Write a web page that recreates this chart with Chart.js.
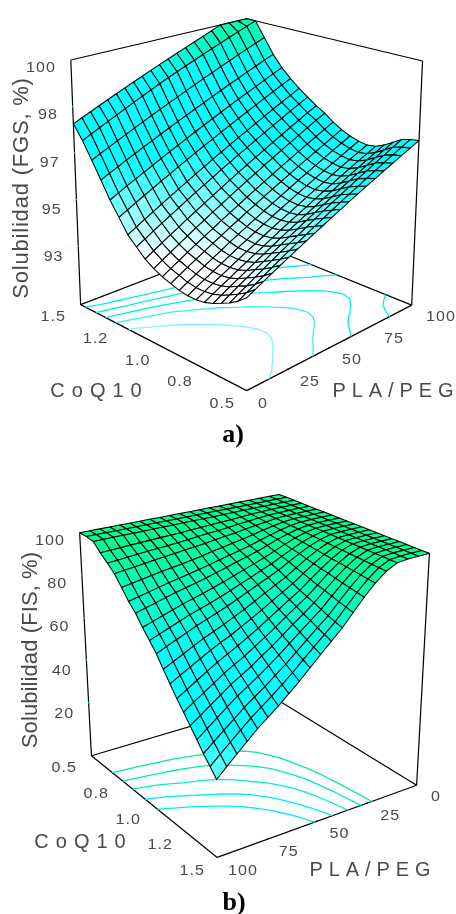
<!DOCTYPE html>
<html><head><meta charset="utf-8">
<style>html,body{margin:0;padding:0;background:#fff;width:456px;height:914px;overflow:hidden}canvas{display:block}</style>
<script src="https://cdn.jsdelivr.net/npm/chart.js@4"></script></head><body>
<canvas id="a" width="456" height="457"></canvas>
<canvas id="b" width="456" height="457"></canvas>
<script>
const plaTicks=[0,25,50,75,100];
const coqTicks=[0.5,0.75,1.0,1.25,1.5];
const plaLabels=['0','25','50','75','100'];
const coqLabels=['0.5','0.8','1.0','1.2','1.5'];
const zTicksA=[100,98.25,96.5,94.75,93];
const zLabelsA=['100','98','97','95','93'];
const zTicksB=[100,80,60,40,20];
const zLabelsB=['100','80','60','40','20'];
const levelsA=[94.4,95.2,95.9,96.6,97.3];
const levelsB=[95,90,83,75,67];
// rows: CoQ10 0.5 -> 1.5, columns: PLA/PEG 0 -> 100
const surfaceA=[
[94.00,94.15,94.30,94.45,94.60,94.75,94.90,95.05,95.20,95.35,95.50,95.65,95.80,95.95,96.10,96.25,96.40,96.55,96.70,96.85,97.00],
[93.75,93.91,94.07,94.23,94.39,94.55,94.71,94.87,95.03,95.19,95.35,95.51,95.67,95.83,95.99,96.15,96.31,96.47,96.63,96.79,96.95],
[93.55,93.72,93.88,94.05,94.21,94.38,94.54,94.71,94.87,95.04,95.20,95.37,95.53,95.70,95.86,96.03,96.19,96.36,96.52,96.69,96.85],
[93.40,93.56,93.73,93.89,94.05,94.21,94.38,94.54,94.70,94.86,95.03,95.19,95.35,95.51,95.68,95.84,96.00,96.16,96.33,96.49,96.65],
[93.25,93.41,93.57,93.73,93.89,94.05,94.21,94.37,94.53,94.69,94.85,95.01,95.17,95.33,95.49,95.65,95.81,95.97,96.13,96.29,96.45],
[93.15,93.31,93.47,93.62,93.78,93.94,94.10,94.25,94.41,94.57,94.73,94.88,95.04,95.20,95.36,95.51,95.67,95.83,95.99,96.14,96.30],
[93.10,93.26,93.42,93.57,93.73,93.89,94.05,94.20,94.36,94.52,94.68,94.83,94.99,95.15,95.31,95.46,95.62,95.78,95.94,96.09,96.25],
[93.10,93.26,93.42,93.58,93.74,93.90,94.06,94.22,94.38,94.54,94.70,94.86,95.02,95.18,95.34,95.50,95.66,95.82,95.98,96.14,96.30],
[93.15,93.31,93.48,93.64,93.80,93.96,94.13,94.29,94.45,94.61,94.78,94.94,95.10,95.26,95.43,95.59,95.75,95.91,96.08,96.24,96.40],
[93.25,93.42,93.58,93.75,93.91,94.08,94.24,94.41,94.57,94.74,94.90,95.07,95.23,95.40,95.56,95.73,95.89,96.06,96.22,96.39,96.55],
[93.35,93.52,93.69,93.86,94.03,94.20,94.37,94.54,94.71,94.88,95.05,95.22,95.39,95.56,95.73,95.90,96.07,96.24,96.41,96.58,96.75],
[93.50,93.68,93.85,94.03,94.20,94.38,94.55,94.73,94.90,95.08,95.25,95.43,95.60,95.78,95.95,96.13,96.30,96.48,96.65,96.83,97.00],
[93.70,93.88,94.05,94.23,94.40,94.58,94.75,94.93,95.10,95.28,95.45,95.63,95.80,95.98,96.15,96.33,96.50,96.68,96.85,97.03,97.20],
[94.00,94.17,94.35,94.52,94.69,94.86,95.04,95.21,95.38,95.55,95.73,95.90,96.07,96.24,96.42,96.59,96.76,96.93,97.11,97.28,97.45],
[94.30,94.47,94.64,94.81,94.98,95.15,95.32,95.49,95.66,95.83,96.00,96.17,96.34,96.51,96.68,96.85,97.02,97.19,97.36,97.53,97.70],
[94.80,94.96,95.12,95.28,95.44,95.60,95.76,95.92,96.08,96.24,96.40,96.56,96.72,96.88,97.04,97.20,97.36,97.52,97.68,97.84,98.00],
[95.30,95.45,95.61,95.76,95.91,96.06,96.22,96.37,96.52,96.67,96.83,96.98,97.13,97.28,97.44,97.59,97.74,97.89,98.05,98.20,98.35],
[95.90,96.05,96.19,96.34,96.48,96.63,96.77,96.92,97.06,97.21,97.35,97.50,97.64,97.79,97.93,98.08,98.22,98.37,98.51,98.66,98.80],
[96.50,96.65,96.79,96.94,97.08,97.23,97.37,97.52,97.66,97.81,97.95,98.10,98.24,98.39,98.53,98.68,98.82,98.97,99.11,99.26,99.40],
[97.10,97.25,97.40,97.55,97.70,97.85,98.00,98.15,98.30,98.45,98.60,98.74,98.88,99.02,99.16,99.30,99.44,99.58,99.72,99.86,100],
[97.60,97.74,97.88,98.02,98.16,98.30,98.44,98.58,98.72,98.86,99.00,99.14,99.28,99.42,99.56,99.70,99.85,100,100,100,100]];
const surfaceB=[
[100,100,100,100,100,100,100,100,100,100,100,100,100,100,100,100,100,100,100,100,100],
[100,100,100,100,100,100,100,100,100,100,100,100,100,100,100,100,100,100,100,100,100],
[100,100,100,100,100,100,99.9,99.9,99.8,99.8,99.8,99.8,99.7,99.7,99.7,99.6,99.6,99.6,99.6,99.5,99.5],
[100,100,100,100,99.8,99.6,99.3,99.0,98.7,98.5,98.2,98.0,97.7,97.5,97.3,97.1,96.9,96.7,96.4,96.2,96.0],
[100,100,100,99.9,99.7,99.3,98.8,98.3,97.8,97.3,96.9,96.5,96.0,95.6,95.2,94.9,94.6,94.2,93.8,93.4,93.0],
[100,100,100,99.9,99.6,99.0,98.3,97.6,96.8,96.2,95.6,94.9,94.3,93.8,93.2,92.7,92.2,91.7,91.1,90.6,90.0],
[100,100,100,99.9,99.4,98.6,97.6,96.5,95.4,94.5,93.6,92.7,91.7,90.9,90.1,89.4,88.7,87.9,87.1,86.3,85.5],
[100,100,100,99.9,99.2,98.2,96.8,95.4,93.9,92.7,91.6,90.4,89.2,88.1,87.1,86.1,85.2,84.2,83.1,82.1,81.0],
[100,100,100,99.8,99.1,97.8,96.3,94.5,92.8,91.4,90.0,88.6,87.2,85.9,84.7,83.6,82.5,81.3,80.0,78.8,77.5],
[100,100,100,99.8,98.9,97.4,95.5,93.4,91.4,89.7,88.0,86.3,84.6,83.1,81.6,80.3,79.0,77.5,76.0,74.5,73.0],
[100,100,100,99.8,98.7,97.0,94.8,92.5,90.1,88.2,86.2,84.3,82.3,80.6,78.9,77.4,75.9,74.2,72.4,70.7,69.0],
[100,100,100,99.8,98.5,96.6,94.2,91.5,88.8,86.6,84.4,82.3,80.1,78.1,76.2,74.5,72.8,70.8,68.9,67.0,65.0],
[100,100,100,99.7,98.3,96.1,93.3,90.3,87.2,84.7,82.2,79.7,77.2,75.0,72.8,70.8,68.9,66.7,64.4,62.2,60.0],
[100,100,100,99.7,98.1,95.7,92.6,89.2,85.8,83.0,80.2,77.4,74.7,72.2,69.7,67.6,65.4,62.9,60.4,58.0,55.5],
[100,100,100,99.7,98.0,95.2,91.8,88.1,84.3,81.3,78.2,75.2,72.1,69.4,66.7,64.3,61.9,59.2,56.4,53.7,51.0],
[100,100,100,99.6,97.8,94.9,91.2,87.1,83.1,79.8,76.4,73.1,69.8,66.9,63.9,61.4,58.8,55.8,52.9,50.0,47.0],
[100,100,100,99.6,97.6,94.5,90.5,86.2,81.8,78.2,74.7,71.1,67.5,64.4,61.2,58.4,55.7,52.5,49.3,46.2,43.0],
[100,100,100,99.6,97.5,94.1,89.8,85.2,80.5,76.7,72.9,69.1,65.3,61.9,58.5,55.5,52.6,49.2,45.8,42.4,39.0],
[100,100,100,99.6,97.3,93.7,89.2,84.2,79.2,75.2,71.1,67.0,63.0,59.4,55.8,52.6,49.4,45.8,42.2,38.6,35.0],
[100,100,100,99.5,97.2,93.3,88.6,83.4,78.1,73.8,69.6,65.3,61.0,57.2,53.4,50.1,46.7,42.9,39.1,35.3,31.5],
[100,100,100,99.5,97,93,88,82.5,77,72.5,68,63.5,59,55,51,47.5,44,40,36,32,28]];

const panelA={id:'a',yMin:0,yMax:457,surface:surfaceA,levels:levelsA,zMin:90.8,zMax:100,zTicks:zTicksA,zLabels:zLabelsA,
 floor:[[247,393.5],[415,306.5],[250,240],[78,306]],top:[[247,122],[426,58],[247,15],[68,57]],
 near:[0,0],zEdge:[0,1],coqEdge:0,plaEdge:0,verticals:[[1,0],[0,1]],topLines:[[[0,1],[1,1]],[[1,1],[1,0]]],
 stops:[[93.7,255,255,255],[96.3,0,255,255],[98.6,0,255,255],[100,0,255,165]],lineColors:['#80f6f6','#30f0f0','#00eeee','#00eeee','#00eeee'],
 title:'Solubilidad (FGS, %)',titleX:22,titleY:188,titleSpacing:0.8,coqTitle:[99.5,391],plaTitle:[396,391],caption:'a)',capPos:[233,435]};
const panelB={id:'b',yMin:457,yMax:914,surface:surfaceB,levels:levelsB,zMin:-5,zMax:100,zTicks:zTicksB,zLabels:zLabelsB,
 floor:[[279,700.6],[89,757],[217,860.5],[420,787]],top:[[280,491],[77,530],[215,608],[433,551]],
 near:[1,1],zEdge:[1,0],coqEdge:1,plaEdge:1,verticals:[[1,0],[0,1]],topLines:[],
 stops:[[26,128,255,255],[42,0,255,255],[62,0,255,255],[100,0,255,140]],lineColors:['#00ee90','#00eeb0','#00eed0','#00eeee','#00eeee'],
 title:'Solubilidad (FIS, %)',titleX:31,titleY:650,titleSpacing:0.1,coqTitle:[83.5,842],plaTitle:[373,870],caption:'b)',capPos:[234,903]};

function bil(q,s,t){const a=(1-s)*(1-t),b=s*(1-t),c=s*t,d=(1-s)*t;
 return [a*q[0][0]+b*q[1][0]+c*q[2][0]+d*q[3][0],a*q[0][1]+b*q[1][1]+c*q[2][1]+d*q[3][1]];}
function proj(p,s,t,z){const f=bil(p.floor,s,t),g=bil(p.top,s,t),w=(z-p.zMin)/(p.zMax-p.zMin);
 return {x:f[0]+(g[0]-f[0])*w,y:f[1]+(g[1]-f[1])*w};}
function colorOf(p,z){const st=p.stops;if(z<=st[0][0])return `rgb(${st[0][1]},${st[0][2]},${st[0][3]})`;
 for(let i=1;i<st.length;i++){if(z<=st[i][0]){const k=(z-st[i-1][0])/(st[i][0]-st[i-1][0]);
  return `rgb(${Math.round(st[i-1][1]+k*(st[i][1]-st[i-1][1]))},${Math.round(st[i-1][2]+k*(st[i][2]-st[i-1][2]))},${Math.round(st[i-1][3]+k*(st[i][3]-st[i-1][3]))})`;}}
 const l=st[st.length-1];return `rgb(${l[1]},${l[2]},${l[3]})`;}
function contour(p,lev){const Z=p.surface,n=Z.length-1,m=Z[0].length-1,out=[],zb=p.zMin;
 const cross=(s1,t1,z1,s2,t2,z2)=>{const k=(lev-z1)/(z2-z1);return proj(p,s1+k*(s2-s1),t1+k*(t2-t1),zb);};
 for(let i=0;i<n;i++)for(let j=0;j<m;j++){
  const s0=j/m,s1=(j+1)/m,t0=i/n,t1=(i+1)/n,a=Z[i][j],b=Z[i][j+1],c=Z[i+1][j+1],d=Z[i+1][j],pts=[];
  if((a<lev)!==(b<lev))pts.push(cross(s0,t0,a,s1,t0,b));
  if((b<lev)!==(c<lev))pts.push(cross(s1,t0,b,s1,t1,c));
  if((c<lev)!==(d<lev))pts.push(cross(s1,t1,c,s0,t1,d));
  if((d<lev)!==(a<lev))pts.push(cross(s0,t1,d,s0,t0,a));
  if(pts.length>=2){out.push(pts[0],pts[1],{x:NaN,y:NaN});}
  if(pts.length===4){out.push(pts[2],pts[3],{x:NaN,y:NaN});}
 }
 return out;}
function line(data,color,width){return {data,showLine:true,borderColor:color,borderWidth:width,pointRadius:0,fill:false,tension:0};}
function build(p){
 const ds=[],Z=p.surface,n=Z.length-1,m=Z[0].length-1;
 const fl=(s,t)=>proj(p,s,t,p.zMin);
 [[[0,0],[1,0]],[[1,0],[1,1]],[[1,1],[0,1]],[[0,1],[0,0]]].forEach(e=>ds.push(line([fl(...e[0]),fl(...e[1])],'#000',1.2)));
 p.verticals.forEach(v=>ds.push(line([proj(p,v[0],v[1],p.zMin),proj(p,v[0],v[1],p.zMax)],'#000',1.2)));
 p.topLines.forEach(e=>ds.push(line([proj(p,e[0][0],e[0][1],p.zMax),proj(p,e[1][0],e[1][1],p.zMax)],'#000',1.2)));
 const zs=p.zEdge;
 ds.push({data:p.zTicks.map(z=>proj(p,zs[0],zs[1],z)),showLine:false,pointStyle:'rect',pointRadius:1,pointBackgroundColor:'#22dd44',pointBorderColor:'#22dd44',pointBorderWidth:0});
 ds.push({data:plaTicks.slice(1,4).map(v=>fl(v/100,p.plaEdge)),showLine:false,pointStyle:'rect',pointRadius:1,pointBackgroundColor:'#000',pointBorderColor:'#000',pointBorderWidth:0});
 p.levels.forEach((l,i)=>ds.push(line(contour(p,l),p.lineColors[i],1.3)));
 const cells=[];
 for(let i=0;i<n;i++)for(let j=0;j<m;j++){
  cells.push({i,j,d:Math.abs((j+.5)/m-p.near[0])+Math.abs((i+.5)/n-p.near[1])});}
 cells.sort((a,b)=>b.d-a.d);
 cells.forEach(({i,j})=>{
  const s0=j/m,s1=(j+1)/m,t0=i/n,t1=(i+1)/n,a=Z[i][j],b=Z[i][j+1],c=Z[i+1][j+1],d=Z[i+1][j];
  const P=[proj(p,s0,t0,a),proj(p,s1,t0,b),proj(p,s1,t1,c),proj(p,s0,t1,d)];P.push({x:P[0].x,y:P[0].y});
  ds.push({data:P,showLine:true,borderColor:'#000',borderWidth:1.05,backgroundColor:colorOf(p,(a+b+c+d)/4),fill:'shape',pointRadius:0,tension:0,borderJoinStyle:'round'});
 });
 ds.reverse();
 const textPlugin={id:'texts',afterDraw(ch){
  const c=ch.ctx,oy=p.yMin;c.save();c.translate(0,-oy);c.fillStyle='#4a4a4a';c.textBaseline='middle';
  const put=(txt,x,y,al,font,sp,sx)=>{c.save();c.translate(x,y);c.scale(sx||1,1);c.font=font;c.textAlign=al;c.letterSpacing=sp+'px';c.fillText(txt,0,0);c.restore();};
  const tf='14px "Liberation Sans"';
  p.zTicks.forEach((z,i)=>{const q=proj(p,zs[0],zs[1],z);put(p.zLabels[i],q.x-12,q.y+11,'right',tf,0.9,1.15);});
  plaTicks.forEach((v,i)=>{const q=fl(v/100,p.plaEdge);put(plaLabels[i],q.x+11,q.y+10.5,'left',tf,0.9,1.15);});
  coqTicks.forEach((v,i)=>{const r=proj(p,p.coqEdge,i/4,p.zMin);put(coqLabels[i],r.x-12,r.y+11,'right',tf,0.9,1.15);});
  put('CoQ10',p.coqTitle[0],p.coqTitle[1],'center','20px "Liberation Sans"',7);
  put('PLA/PEG',p.plaTitle[0],p.plaTitle[1],'center','20px "Liberation Sans"',5.9);
  c.save();c.translate(p.titleX,p.titleY);c.rotate(-Math.PI/2);put(p.title,0,0,'center','22px "Liberation Sans"',p.titleSpacing);c.restore();
  c.fillStyle='#000';put(p.caption,p.capPos[0],p.capPos[1],'center','bold 26px "Liberation Serif"',0);
  c.restore();}};
 new Chart(document.getElementById(p.id),{type:'scatter',data:{datasets:ds},plugins:[textPlugin],options:{responsive:false,animation:false,events:[],
  layout:{padding:0},plugins:{legend:{display:false},tooltip:{enabled:false},title:{display:false}},
  scales:{x:{type:'linear',display:false,min:0,max:456},y:{type:'linear',display:false,min:p.yMin,max:p.yMax,reverse:true}}}});
}
build(panelA);build(panelB);
</script></body></html>
